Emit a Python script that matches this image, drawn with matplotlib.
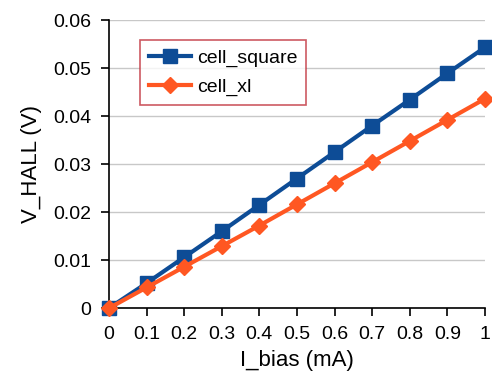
import matplotlib
matplotlib.use("Agg")
import matplotlib.pyplot as plt

# bias current (mA) and measured Hall voltage (V)
i_bias = [0, 0.1, 0.2, 0.3, 0.4, 0.5, 0.6, 0.7, 0.8, 0.9, 1.0]
v_square = [0, 0.0052, 0.0106, 0.0160, 0.0215, 0.0270, 0.0325, 0.0380, 0.0434, 0.0489, 0.0543]
v_xl = [0, 0.0043, 0.0086, 0.0129, 0.0172, 0.0216, 0.0260, 0.0304, 0.0348, 0.0392, 0.0436]

x_ticks = [0, 0.1, 0.2, 0.3, 0.4, 0.5, 0.6, 0.7, 0.8, 0.9, 1.0]
x_tick_labels = ["0", "0.1", "0.2", "0.3", "0.4", "0.5", "0.6", "0.7", "0.8", "0.9", "1"]
y_ticks = [0, 0.01, 0.02, 0.03, 0.04, 0.05, 0.06]
y_tick_labels = ["0", "0.01", "0.02", "0.03", "0.04", "0.05", "0.06"]

plt.rcParams["font.family"] = ["Liberation Sans", "DejaVu Sans"]

fig = plt.figure(figsize=(4.92, 3.79), dpi=100)
ax = fig.add_axes([0.2215, 0.187, 0.764, 0.760])

ax.plot(i_bias, v_square, color="#0D4C96", lw=3, marker="s", ms=10,
        label="cell_square", clip_on=False, zorder=3)
ax.plot(i_bias, v_xl, color="#FF5722", lw=3, marker="D", ms=8,
        label="cell_xl", clip_on=False, zorder=4)

ax.set_xlim(0, 1)
ax.set_ylim(0, 0.06)
ax.set_xticks(x_ticks)
ax.set_xticklabels(x_tick_labels)
ax.set_yticks(y_ticks)
ax.set_yticklabels(y_tick_labels)
ax.tick_params(axis="both", direction="out", length=6, width=1.2, labelsize=14, colors="black")
ax.tick_params(axis="x", pad=7)
ax.tick_params(axis="y", pad=7)

ax.grid(axis="y", color="#C8C8C8", lw=1)
ax.set_axisbelow(True)
for side in ["top", "right"]:
    ax.spines[side].set_visible(False)
for side in ["left", "bottom"]:
    ax.spines[side].set_linewidth(1.2)

ax.set_xlabel("I_bias (mA)", fontsize=16, labelpad=5)
ax.set_ylabel("V_HALL (V)", fontsize=16, labelpad=8)

leg = ax.legend(loc="upper left", bbox_to_anchor=(0.082, 0.93), borderaxespad=0,
                fontsize=14, frameon=True, fancybox=False, handlelength=2.2,
                handletextpad=0.3, labelspacing=0.6, borderpad=0.45)
leg.get_frame().set_edgecolor("#C0303A")
leg.get_frame().set_linewidth(1.2)

fig.savefig("out.png", dpi=100)
